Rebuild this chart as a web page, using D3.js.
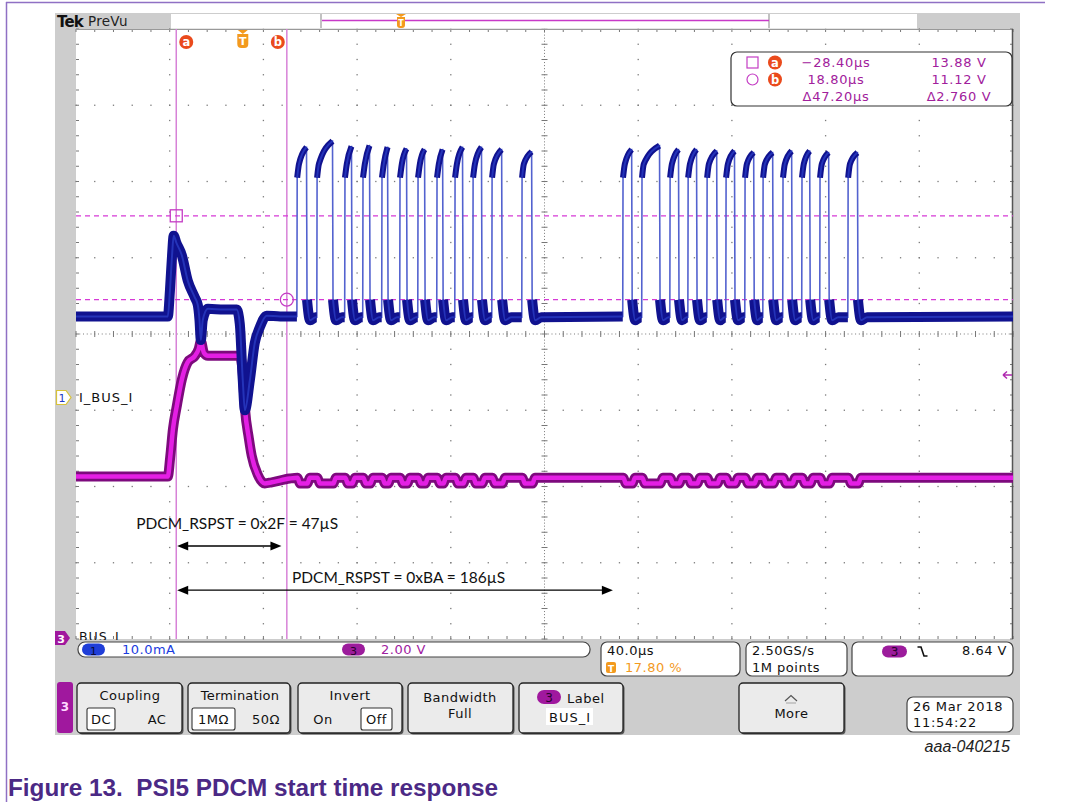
<!DOCTYPE html>
<html><head><meta charset="utf-8">
<script src="https://cdn.jsdelivr.net/npm/d3@7"></script>
<style>body{margin:0;background:#fff}svg{display:block}text{white-space:pre}</style>
</head><body><svg id="c" width="1065" height="802"></svg>
<script>
// ---------------- data ----------------
const timePerDivUs = 40.0;          // horizontal scale
const triggerPct = 17.80;           // trigger position (%)
const ch1ScaleMA = 10.0;            // I_BUS_I, mA/div
const ch3ScaleV = 2.00;             // BUS_I, V/div
const ch1PosDiv = -0.83;            // channel 1 ground position (div)
const ch3PosDiv = -3.97;            // channel 3 ground position (div)

// Channel 1 (blue, mA) before the first response frame: [time µs, mA]
const blueLeadIn = [[-71.2,10.6],[-32.0,10.6],[-31.1,14.0],[-30.2,18.6],[-29.5,21.2],[-28.4,20.3],[-26.0,18.6],[-23.5,15.3],[-20.5,13.1],[-19.2,12.1],[-18.5,10.2],[-17.9,7.5],[-17.1,10.1],[-14.9,11.6],[-8.0,11.5],[-2.6,11.5],[-1.3,9.7],[0.0,2.2],[0.9,-1.7],[3.0,2.2],[5.1,7.1],[7.3,9.2],[10.2,10.7],[16.0,10.6],[23.1,10.6]];
// Manchester pulses: rising / falling edge times (µs) and pulse top (mA)
const burstRises = [23.1,31.6,43.5,51.2,59.3,67.0,74.7,82.8,90.5,98.2,106.3,119.1, 162.2,170.3,182.3,190.0,198.1,206.2,214.3,222.0,230.5,238.6,246.3,258.3];
const burstFalls = [27.3,38.4,46.5,54.2,61.9,70.0,77.7,85.4,93.9,102.0,110.6,123.4, 166.1,178.0,186.1,193.8,202.4,210.0,218.2,226.3,234.4,242.1,250.2,262.5];
const pulseTopsMA = [32.8,33.6,32.9,33.0,32.8,32.6,32.5,32.5,32.8,32.8,32.5,32.2, 32.5,33.0,32.5,32.5,32.3,32.3,32.1,32.1,32.3,32.3,32.1,32.1];
const pulseStartMA = 28.8, pulseEarlyMA = 30.6;    // level just after a rising edge
const lowStartMA = 12.8, lowDipMA = 10.1, lowRestMA = 10.5, baseMA = 10.6;

// Channel 3 (magenta, V) before the frames: [time µs, V]
const purpleLeadIn = [[-71.2,4.20],[-32.0,4.20],[-31.0,4.70],[-29.8,5.45],[-28.2,6.04],[-26.0,6.75],[-23.5,7.20],[-20.5,7.36],[-18.8,7.55],[-17.9,7.75],[-16.6,7.45],[-14.9,7.37],[-1.3,7.37],[0.0,6.90],[0.9,6.00],[2.6,5.20],[3.8,4.75],[6.4,4.25],[9.4,4.02],[12.4,4.05],[20.0,4.15]];
const purpleIdleV = 4.17, purpleLoadedV = 4.02, purpleEndV = 4.17;

// cursors
const cursorTimesUs = [-28.40, 18.80];
const cursorLevelsDiv = [1.55, 0.45];
const readoutRows = [["−28.40µs","13.88 V"],["18.80µs","11.12 V"],["Δ47.20µs","Δ2.760 V"]];

// annotations
const annotations = [
  {text:"PDCM_RSPST = 0x2F = 47µS", from:-28.0, to:16.5, textAt:-45.5, lvl:-2.78, tl:-2.56},
  {text:"PDCM_RSPST = 0xBA = 186µS", from:-28.0, to:158.0, textAt:21.0, lvl:-3.36, tl:-3.27}
];

// ---------------- scales ----------------
const G = {x0:76, x1:1013, y0:29, y1:639};
const tStart = -triggerPct/100*10*timePerDivUs, tEnd = tStart + 10*timePerDivUs;
const xT = d3.scaleLinear().domain([tStart,tEnd]).range([G.x0,G.x1]);
const xD = d3.scaleLinear().domain([0,10]).range([G.x0,G.x1]);
const yD = d3.scaleLinear().domain([-4,4]).range([G.y1,G.y0]);
const y1 = v => yD(v/ch1ScaleMA + ch1PosDiv);
const y3 = v => yD(v/ch3ScaleV + ch3PosDiv);

const svg = d3.select("#c");
const UI = "DejaVu Sans";

// page frame
svg.append("line").attr("x1",6).attr("x2",1045).attr("y1",2.5).attr("y2",2.5).attr("stroke","#8f70c4").attr("stroke-width",1.5);
svg.append("line").attr("x1",6.5).attr("x2",6.5).attr("y1",2).attr("y2",802).attr("stroke","#8f70c4").attr("stroke-width",1.5);

// scope body
svg.append("rect").attr("x",55).attr("y",13).attr("width",965).attr("height",722).attr("fill","#cdcdcd");
svg.append("rect").attr("x",G.x0).attr("y",G.y0).attr("width",G.x1-G.x0).attr("height",G.y1-G.y0).attr("fill","#fff");

// ---------------- graticule ----------------
const grid = svg.append("g");
const dot = (x,y,s=1.3)=>grid.append("rect").attr("x",x-s/2).attr("y",y-s/2).attr("width",s).attr("height",s).attr("fill","#7a7a7a");
d3.range(1,10).filter(i=>i!==5).forEach(i=>{ d3.range(0,41).forEach(j=>dot(xD(i),yD(-4+j/5))); });
d3.range(-3,4).filter(j=>j!==0).forEach(j=>{ d3.range(0,51).forEach(i=>dot(xD(i/5),yD(j))); });
// center cross
d3.range(0,201).forEach(j=>dot(xD(5),yD(-4+j/25),1));
d3.range(0,251).forEach(i=>dot(xD(i/25),yD(0),1));
d3.range(0,41).forEach(j=>grid.append("line").attr("x1",xD(5)-3).attr("x2",xD(5)+3).attr("y1",yD(-4+j/5)).attr("y2",yD(-4+j/5)).attr("stroke","#777"));
d3.range(0,51).forEach(i=>grid.append("line").attr("x1",xD(i/5)).attr("x2",xD(i/5)).attr("y1",yD(0)-3).attr("y2",yD(0)+3).attr("stroke","#777"));
// edge ticks
d3.range(0,51).forEach(i=>{
  grid.append("line").attr("x1",xD(i/5)).attr("x2",xD(i/5)).attr("y1",G.y0).attr("y2",G.y0+3).attr("stroke","#777");
  grid.append("line").attr("x1",xD(i/5)).attr("x2",xD(i/5)).attr("y1",G.y1-3).attr("y2",G.y1).attr("stroke","#777");
});
d3.range(0,41).forEach(j=>{
  grid.append("line").attr("x1",G.x0).attr("x2",G.x0+3).attr("y1",yD(-4+j/5)).attr("y2",yD(-4+j/5)).attr("stroke","#777");
  grid.append("line").attr("x1",G.x1-3).attr("x2",G.x1).attr("y1",yD(-4+j/5)).attr("y2",yD(-4+j/5)).attr("stroke","#777");
});
grid.append("line").attr("x1",G.x0).attr("x2",G.x1).attr("y1",G.y0+0.5).attr("y2",G.y0+0.5).attr("stroke","#999");
grid.append("line").attr("x1",G.x1-0.5).attr("x2",G.x1-0.5).attr("y1",G.y0).attr("y2",G.y1).attr("stroke","#555").attr("stroke-width",1.5);

// ---------------- cursors ----------------
const cur = svg.append("g");
cursorTimesUs.forEach(t=>cur.append("line").attr("x1",xT(t)).attr("x2",xT(t)).attr("y1",G.y0).attr("y2",G.y1).attr("stroke","#d782d7").attr("stroke-width",1.5));
cursorLevelsDiv.forEach(l=>cur.append("line").attr("x1",G.x0).attr("x2",G.x1).attr("y1",yD(l)).attr("y2",yD(l)).attr("stroke","#d63ad6").attr("stroke-width",1.2).attr("stroke-dasharray","5,4"));

// ---------------- traces ----------------
// channel 3
const pPts = purpleLeadIn.slice();
burstRises.forEach((r,i)=>{ const f=burstFalls[i];
  pPts.push([r+0.3,purpleIdleV],[r+1.3,purpleLoadedV],[f+0.3,purpleLoadedV],[f+1.3,purpleIdleV]); });
pPts.push([tEnd,purpleEndV]);
const lineP = d3.line().x(d=>xT(d[0])).y(d=>y3(d[1])).curve(d3.curveMonotoneX);
svg.append("path").attr("d",lineP(pPts)).attr("fill","none").attr("stroke","#7d0a7d").attr("stroke-width",10).attr("stroke-linejoin","round");
svg.append("path").attr("d",lineP(pPts)).attr("fill","none").attr("stroke","#e41fe4").attr("stroke-width",4.5).attr("stroke-linejoin","round");

// channel 1
const segs = [];
let curSeg = blueLeadIn.slice();
burstRises.forEach((r,i)=>{
  const f = burstFalls[i];
  const next = i+1<burstRises.length ? burstRises[i+1] : tEnd;
  segs.push({pts:curSeg, w:10});
  segs.push({pts:[[r+0.12,pulseStartMA],[r+0.9,pulseEarlyMA],[f-0.1,pulseTopsMA[i]]], w:6});
  const gapLong = next - f > 20;
  curSeg = [[f+0.12,lowStartMA],[f+1.4,lowDipMA],[Math.min(f+4,next-0.5),lowRestMA],[next, gapLong?baseMA:lowRestMA]];
});
segs.push({pts:curSeg, w:10});
const lineB = d3.line().x(d=>xT(d[0])).y(d=>y1(d[1])).curve(d3.curveMonotoneX);
const allB = [].concat(...segs.map(s=>s.pts));
svg.append("path").attr("d",lineB(allB)).attr("fill","none").attr("stroke","#5362cf").attr("stroke-width",1.6);
segs.forEach(s=>{
  svg.append("path").attr("d",lineB(s.pts)).attr("fill","none").attr("stroke","#10128f").attr("stroke-width",s.w).attr("stroke-linejoin","round");
  svg.append("path").attr("d",lineB(s.pts)).attr("fill","none").attr("stroke","#2433b8").attr("stroke-width",2).attr("stroke-linejoin","round");
});

// cursor markers
cur.append("rect").attr("x",xT(cursorTimesUs[0])-6).attr("y",yD(cursorLevelsDiv[0])-6).attr("width",12).attr("height",12).attr("fill","none").attr("stroke","#c43cc4").attr("stroke-width",1.3);
svg.append("circle").attr("cx",xT(cursorTimesUs[1])).attr("cy",yD(cursorLevelsDiv[1])).attr("r",6.5).attr("fill","none").attr("stroke","#c43cc4").attr("stroke-width",1.3);

// cursor badges and trigger marker
const badge = (x,y,l)=>{ svg.append("circle").attr("cx",x).attr("cy",y).attr("r",7).attr("fill","#ea4a1c");
  svg.append("text").attr("x",x).attr("y",y+4).attr("text-anchor","middle").attr("font-family",UI).attr("font-weight","bold").attr("font-size",11.5).attr("fill","#fff").text(l); };
badge(xT(cursorTimesUs[0])+10,42,"a");
badge(xT(cursorTimesUs[1])-9,42,"b");
const trig = (x,yTop,h)=>{ svg.append("path").attr("d",`M${x-5},${yTop} L${x+5},${yTop} L${x},${yTop+4} Z`).attr("fill","#f39a1e");
  svg.append("path").attr("d",`M${x-5.5},${yTop+4} h11 v${h-8} q0,4 -4,4 h-3 q-4,0 -4,-4 Z`).attr("fill","#f39a1e");
  svg.append("text").attr("x",x).attr("y",yTop+h-3).attr("text-anchor","middle").attr("font-family",UI).attr("font-weight","bold").attr("font-size",h>15?11:9).attr("fill","#fff").text("T"); };
trig(xT(0),30,18);

// readout box
const rb = svg.append("g");
rb.append("rect").attr("x",731).attr("y",52).attr("width",281).attr("height",54).attr("rx",6).attr("fill","#fff").attr("stroke","#333").attr("stroke-width",1.2);
rb.append("rect").attr("x",747).attr("y",57).attr("width",11).attr("height",11).attr("fill","none").attr("stroke","#c43cc4").attr("stroke-width",1.2);
rb.append("circle").attr("cx",752.5).attr("cy",79.5).attr("r",5.5).attr("fill","none").attr("stroke","#c43cc4").attr("stroke-width",1.2);
[[775,62.5,"a"],[775,79.5,"b"]].forEach(b=>badge(b[0],b[1],b[2]));
readoutRows.forEach((r,i)=>{
  rb.append("text").attr("x",836).attr("y",67+i*17).attr("text-anchor","middle").attr("font-family",UI).attr("font-size",13).attr("letter-spacing",0.7).attr("fill","#a1209c").text(r[0]);
  rb.append("text").attr("x",959).attr("y",67+i*17).attr("text-anchor","middle").attr("font-family",UI).attr("font-size",13).attr("letter-spacing",0.7).attr("fill","#a1209c").text(r[1]);
});

// annotations
annotations.forEach(a=>{
  const y = yD(a.lvl), xa = xT(a.from), xb = xT(a.to);
  svg.append("line").attr("x1",xa+8).attr("x2",xb-8).attr("y1",y).attr("y2",y).attr("stroke","#000").attr("stroke-width",1.3);
  svg.append("path").attr("d",`M${xa},${y} L${xa+11},${y-4.5} L${xa+11},${y+4.5} Z`).attr("fill","#000");
  svg.append("path").attr("d",`M${xb},${y} L${xb-11},${y-4.5} L${xb-11},${y+4.5} Z`).attr("fill","#000");
  svg.append("text").attr("x",xT(a.textAt)).attr("y",yD(a.tl)).attr("font-family","Lato").attr("font-size",15.5).attr("fill","#111").text(a.text);
});

// top bar
svg.append("text").attr("x",57).attr("y",27).attr("font-family",UI).attr("font-weight","bold").attr("font-size",15).attr("letter-spacing",-0.8).attr("fill","#111").text("Tek");
svg.append("text").attr("x",88).attr("y",26).attr("font-family",UI).attr("font-size",13.5).attr("letter-spacing",0.3).attr("fill","#222").text("PreVu");
svg.append("rect").attr("x",171).attr("y",14).attr("width",746).attr("height",14.5).attr("fill","#fff");
[321,769].forEach(x=>svg.append("line").attr("x1",x).attr("x2",x).attr("y1",14).attr("y2",28).attr("stroke","#999").attr("stroke-width",1.2));
svg.append("line").attr("x1",322).attr("x2",769).attr("y1",20.5).attr("y2",20.5).attr("stroke","#c83ac8").attr("stroke-width",1.5);
svg.append("path").attr("d","M396,14 L406,14 L401,17 Z").attr("fill","#f39a1e");
svg.append("path").attr("d","M397,17 h8 v8 q0,3 -3,3 h-2 q-3,0 -3,-3 Z").attr("fill","#f39a1e");
svg.append("text").attr("x",401).attr("y",26).attr("text-anchor","middle").attr("font-family",UI).attr("font-weight","bold").attr("font-size",8).attr("fill","#fff").text("T");

// channel markers
svg.append("path").attr("d","M56.5,390.5 L66,390.5 L71,397.5 L66,404.5 L56.5,404.5 Z").attr("fill","#fff").attr("stroke","#d8c23a").attr("stroke-width",1.2);
svg.append("text").attr("x",62).attr("y",402).attr("text-anchor","middle").attr("font-family",UI).attr("font-size",11).attr("fill","#2036c8").text("1");
svg.append("text").attr("x",79).attr("y",402).attr("font-family",UI).attr("font-size",13).attr("letter-spacing",1).attr("fill","#111").text("I_BUS_I");
svg.append("path").attr("d","M55,631 L65,631 L70,638 L65,645 L55,645 Z").attr("fill","#a0189e");
svg.append("text").attr("x",61).attr("y",643).attr("text-anchor","middle").attr("font-family",UI).attr("font-weight","bold").attr("font-size",11).attr("fill","#fff").text("3");
svg.append("defs").append("clipPath").attr("id","cl3").append("rect").attr("x",70).attr("y",620).attr("width",100).attr("height",20);
svg.append("text").attr("x",79).attr("y",640.5).attr("clip-path","url(#cl3)").attr("font-family",UI).attr("font-size",12.5).attr("letter-spacing",1).attr("fill","#111").text("BUS_I");
svg.append("path").attr("d","M1003,375 L1012,375 M1003,375 L1007,371.5 M1003,375 L1007,378.5").attr("stroke","#b02ab0").attr("stroke-width",1.5).attr("fill","none");

// ---------------- info row ----------------
const box = (x,y,w,h,r=6)=>svg.append("rect").attr("x",x).attr("y",y).attr("width",w).attr("height",h).attr("rx",r).attr("fill","#fff").attr("stroke","#444").attr("stroke-width",1.2);
const T = (x,y,s,opt={})=>svg.append("text").attr("x",x).attr("y",y).attr("font-family",UI).attr("font-size",opt.size||13).attr("letter-spacing",opt.ls??0.5)
   .attr("text-anchor",opt.anchor||"start").attr("font-weight",opt.bold?"bold":"normal").attr("fill",opt.fill||"#111").text(s);
box(78,642,512,15,7);
svg.append("rect").attr("x",82).attr("y",643.5).attr("width",23).attr("height",12).attr("rx",6).attr("fill","#1f3ed8");
T(93.5,654.5,"1",{anchor:"middle",fill:"#0a0a3a",size:11,ls:0});
T(122,654,"10.0mA",{fill:"#1a3ce0"});
svg.append("rect").attr("x",342).attr("y",643.5).attr("width",23).attr("height",12).attr("rx",6).attr("fill","#9c1c9c");
T(353.5,654.5,"3",{anchor:"middle",fill:"#2a0030",size:11,ls:0});
T(381,654,"2.00 V",{fill:"#a020a0"});

box(601,642,139,34);
T(607,655,"40.0µs");
svg.append("rect").attr("x",606).attr("y",662).attr("width",10).attr("height",11).attr("rx",2).attr("fill","#f39a1e");
T(611,671.5,"T",{anchor:"middle",fill:"#fff",size:9,bold:true,ls:0});
T(625,672,"17.80 %",{fill:"#f39a1e"});

box(746,642,101,34);
T(752,655,"2.50GS/s");
T(752,672,"1M points");

box(852,642,161,34);
svg.append("rect").attr("x",882).attr("y",645.5).attr("width",25).attr("height",12).attr("rx",6).attr("fill","#9c1c9c");
T(894.5,656,"3",{anchor:"middle",fill:"#2a0030",size:12,ls:0});
svg.append("path").attr("d","M917.5,647 L921,647 L924,656 L927.5,656").attr("fill","none").attr("stroke","#111").attr("stroke-width",1.6);
T(1007,655,"8.64 V",{anchor:"end"});

// ---------------- buttons ----------------
const btn = (x,w,y=683,h=50)=>{ svg.append("rect").attr("x",x+1.5).attr("y",y+1.5).attr("width",w).attr("height",h).attr("rx",4).attr("fill","#555");
  svg.append("rect").attr("x",x).attr("y",y).attr("width",w).attr("height",h).attr("rx",4).attr("fill","#ebebeb").attr("stroke","#222").attr("stroke-width",1.3); };
const sel = (x,w)=>svg.append("rect").attr("x",x).attr("y",708).attr("width",w).attr("height",22).attr("rx",2).attr("fill","#fff").attr("stroke","#333").attr("stroke-width",1.1);
svg.append("rect").attr("x",57).attr("y",682).attr("width",16).attr("height",51).attr("rx",3).attr("fill","#a0189e");
T(65,711,"3",{anchor:"middle",fill:"#ffd8ff",size:12,ls:0,bold:true});
btn(77,105); T(130,700,"Coupling",{anchor:"middle"}); sel(87,28); T(101,724,"DC",{anchor:"middle"}); T(157,724,"AC",{anchor:"middle"});
btn(188,102); T(240,700,"Termination",{anchor:"middle",ls:0.2}); sel(192,43); T(213.5,724,"1MΩ",{anchor:"middle"}); T(266,724,"50Ω",{anchor:"middle"});
btn(298,104); T(350,700,"Invert",{anchor:"middle"}); T(323,724,"On",{anchor:"middle"}); sel(361,31); T(376.5,724,"Off",{anchor:"middle"});
btn(408,105); T(460,702,"Bandwidth",{anchor:"middle"}); T(460,718,"Full",{anchor:"middle"});
btn(519,104);
svg.append("rect").attr("x",537).attr("y",690).attr("width",24).attr("height",14).attr("rx",7).attr("fill","#a0189e");
T(549,701.5,"3",{anchor:"middle",fill:"#2a0030",size:12,ls:0});
T(567,703,"Label");
svg.append("rect").attr("x",546).attr("y",708).attr("width",47).attr("height",17).attr("fill","#fff");
T(549,722,"BUS_I",{ls:1});
btn(739,105);
svg.append("path").attr("d","M785,701 L791,695.5 L797,701").attr("fill","none").attr("stroke","#555").attr("stroke-width",1.2);
svg.append("line").attr("x1",786).attr("x2",796).attr("y1",703).attr("y2",703).attr("stroke","#bbb").attr("stroke-width",1.5);
T(791.5,718,"More",{anchor:"middle"});
box(907,697,106,35,6);
T(913,711,"26 Mar 2018",{ls:0.7});
T(913,727,"11:54:22",{ls:0.7});

// ---------------- captions ----------------
svg.append("text").attr("x",1010).attr("y",752).attr("text-anchor","end").attr("font-family","Liberation Sans").attr("font-style","italic").attr("font-size",16).attr("fill","#222").text("aaa-040215");
svg.append("text").attr("x",8).attr("y",796).attr("font-family","Liberation Sans").attr("font-weight","bold").attr("font-size",24.3).attr("fill","#4b2985").text("Figure 13.  PSI5 PDCM start time response");
</script></body></html>
